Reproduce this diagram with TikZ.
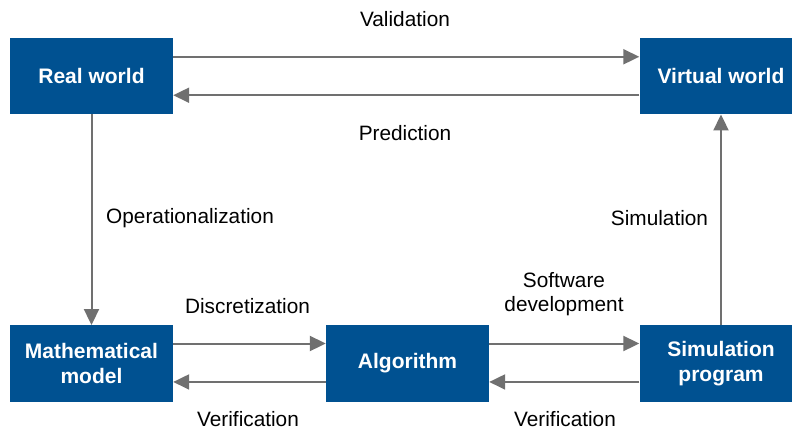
\documentclass[tikz,border=0pt]{standalone}
\usepackage{fontspec}
\setmainfont{Liberation Sans}
\usetikzlibrary{arrows.meta,calc}
\definecolor{boxblue}{RGB}{0,81,145}
\definecolor{linkgray}{RGB}{112,112,112}
\begin{document}
\begin{tikzpicture}[x=1pt,y=-1pt,
  block/.style={fill=boxblue,draw=none,minimum width=163pt,minimum height=76.5pt,
    text=white,align=center,inner sep=0pt,font=\fontsize{21}{25}\selectfont\bfseries},
  caption/.style={inner sep=0pt,font=\fontsize{20.8}{24.5}\selectfont},
  link/.style={draw=linkgray,line width=2pt,-{Triangle[length=16pt,width=15pt]}}]
\clip (0,0) rectangle (792,430);
\fill[white] (0,0) rectangle (792,430);

% boxes
\node[block] (real) at (91.5,76) {Real world};
\node[block] (virt) at (721,76) {Virtual world};
\node[block] (math) at (91.5,363.5) {Mathematical\\model};
\node[block] (algo) at (407.5,363.5) {Algorithm};
\node[block] (prog) at (721,363.5) {Simulation\\program};

% labels
\node[caption] (lval) at (405,19) {Validation};
\node[caption] (lpre) at (405,133) {Prediction};
\node[caption,anchor=west] (lope) at (106,218) {Operationalization};
\node[caption] (lsim) at (659.5,218) {Simulation};
\node[caption] (ldis) at (247.5,306) {Discretization};
\node[caption,align=center] (lsw) at (564,294) {Software\\development};
\node[caption] (lver1) at (248,419.5) {Verification};
\node[caption] (lver2) at (565,419.5) {Verification};

% connectors
\draw[link] ($(real.north east)!.25!(real.south east)$) -- ($(virt.north west)!.25!(virt.south west)$);
\draw[link] ($(virt.north west)!.75!(virt.south west)$) -- ($(real.north east)!.75!(real.south east)$);
\draw[link] (real.south) -- (math.north);
\draw[link] (prog.north) -- (virt.south);
\draw[link] ($(math.north east)!.24!(math.south east)$) -- ($(algo.north west)!.24!(algo.south west)$);
\draw[link] ($(algo.north west)!.74!(algo.south west)$) -- ($(math.north east)!.74!(math.south east)$);
\draw[link] ($(algo.north east)!.24!(algo.south east)$) -- ($(prog.north west)!.24!(prog.south west)$);
\draw[link] ($(prog.north west)!.74!(prog.south west)$) -- ($(algo.north east)!.74!(algo.south east)$);
\end{tikzpicture}
\end{document}
